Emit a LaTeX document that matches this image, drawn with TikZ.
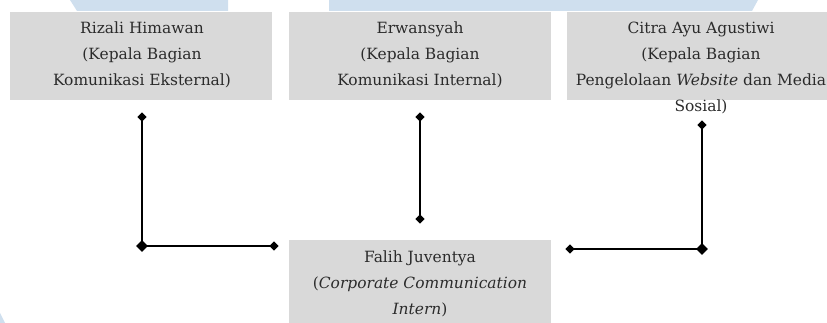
\documentclass[tikz,border=0pt]{standalone}
\usepackage{fontspec}
\setmainfont{DejaVu Serif}
\usetikzlibrary{shapes.geometric}
\definecolor{boxgray}{HTML}{D9D9D9}
\definecolor{bandblue}{HTML}{CFDFEE}
\definecolor{textgray}{HTML}{2B2B2B}
\tikzset{
  roletext/.style={align=center, font=\fontsize{11.6}{19.5}\selectfont, text=textgray, inner sep=0pt},
  link/.style={line width=1.6pt, black},
  tipdot/.style={diamond, fill=black, inner sep=0pt, minimum width=7pt, minimum height=7pt},
  cornerdot/.style={diamond, fill=black, inner sep=0pt, minimum width=9pt, minimum height=9pt},
}
\begin{document}
\begin{tikzpicture}[x=0.75pt,y=-0.75pt]
\useasboundingbox (0,0) rectangle (827,323);
% background bands
\fill[bandblue] (70,0) -- (228,0) -- (228,11) -- (77,11) -- cycle;
\fill[bandblue] (329,0) -- (758,0) -- (752,11) -- (329,11) -- cycle;
\fill[bandblue] (0,313) -- (5,323) -- (0,323) -- cycle;
% boxes
\fill[boxgray] (10,12) rectangle (272,100);
\fill[boxgray] (289,12) rectangle (551,100);
\fill[boxgray] (567,12) rectangle (827,100);
\fill[boxgray] (289,240) rectangle (551,323);
% texts
\node[roletext] (rizali) at (142,55) {Rizali Himawan\\(Kepala Bagian\\Komunikasi Eksternal)};
\node[roletext] (erwan) at (420,55) {Erwansyah\\(Kepala Bagian\\Komunikasi Internal)};
\node[roletext] (citra) at (701,68) {Citra Ayu Agustiwi\\(Kepala Bagian\\Pengelolaan \textit{Website} dan Media\\Sosial)};
\node[roletext] (falih) at (420,284) {Falih Juventya\\(\textit{Corporate Communication}\\\textit{Intern})};
% connector points
\node[tipdot] (a1) at (142,117) {};
\node[cornerdot] (a2) at (142,246) {};
\node[tipdot] (a3) at (274,246) {};
\node[tipdot] (b1) at (420,117) {};
\node[tipdot] (b2) at (420,219) {};
\node[tipdot] (c1) at (702,125) {};
\node[cornerdot] (c2) at (702,249) {};
\node[tipdot] (c3) at (570,249) {};
\draw[link] (a1.center) -- (a2.center) -- (a3.center);
\draw[link] (b1.center) -- (b2.center);
\draw[link] (c1.center) -- (c2.center) -- (c3.center);
\end{tikzpicture}
\end{document}
